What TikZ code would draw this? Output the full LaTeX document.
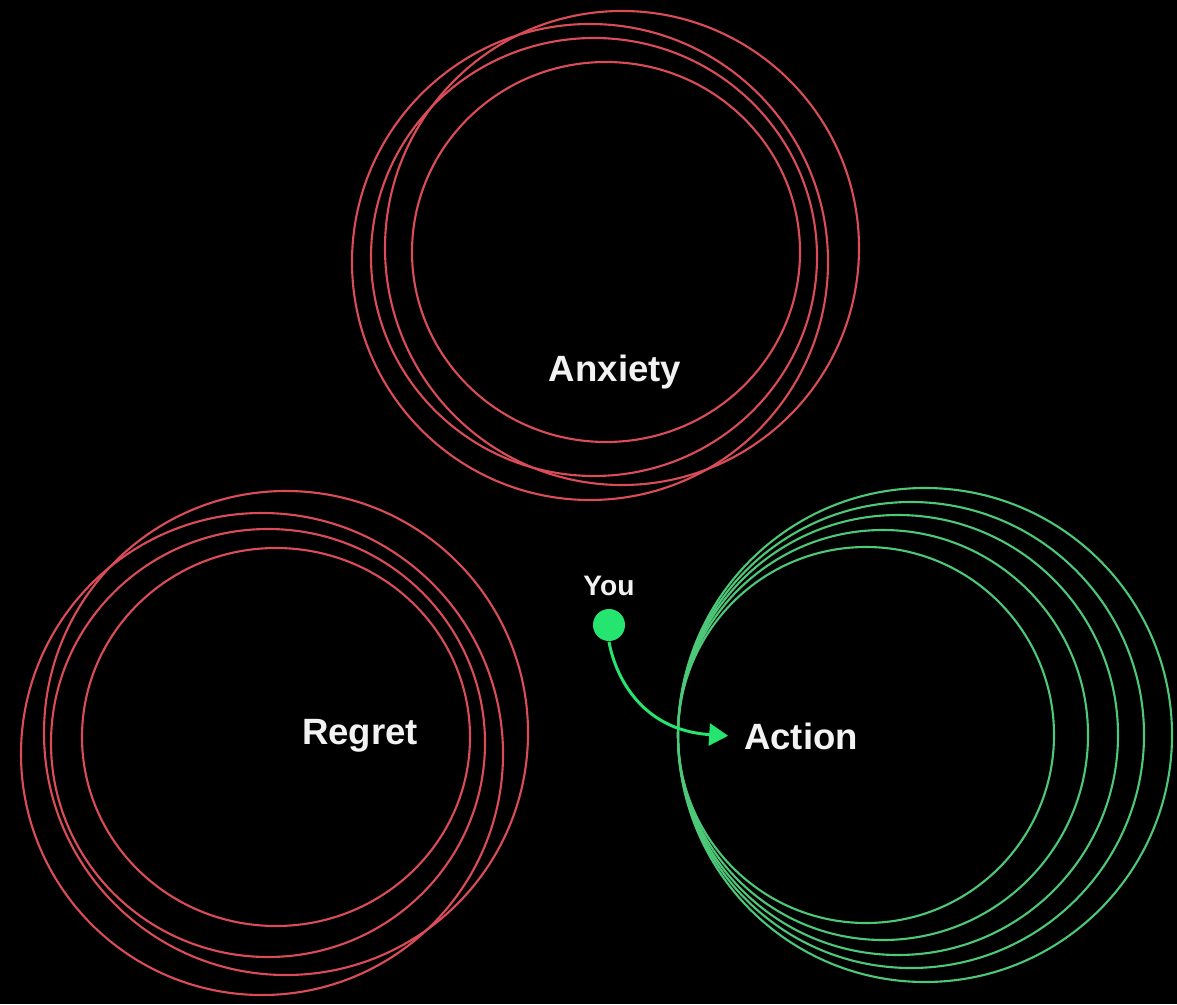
\documentclass[tikz,border=0pt]{standalone}
\usepackage{fontspec}
\setmainfont{Liberation Sans}
\usepackage{xcolor}
\usetikzlibrary{positioning,arrows.meta}

\definecolor{ringred}{RGB}{218,76,88}
\definecolor{ringgreen}{RGB}{76,200,120}
\definecolor{dotgreen}{RGB}{38,228,112}
\definecolor{labelwhite}{RGB}{242,242,242}

\begin{document}
\begin{tikzpicture}[x=0.01cm, y=-0.01cm,
  every node/.style={font=\bfseries\fontsize{10.4}{12}\selectfont, text=labelwhite},
  redring/.style={draw=ringred, line width=0.6pt},
  greenring/.style={draw=ringgreen, line width=0.6pt},
  youdot/.style={circle, fill=dotgreen, inner sep=0pt, minimum size=0.32cm}]

  \fill[black] (0,0) rectangle (1177,1004);
  \useasboundingbox (0,0) rectangle (1177,1004);

  % Anxiety rings
  \draw[redring] (606,252) ellipse [x radius=194, y radius=190];
  \draw[redring] (594,257) ellipse [x radius=223, y radius=219];
  \draw[redring] (590,262) circle [radius=238];
  \draw[redring] (622,248) circle [radius=237];

  % Regret rings
  \draw[redring] (276,737) ellipse [x radius=194, y radius=189];
  \draw[redring] (268,743) ellipse [x radius=217, y radius=214];
  \draw[redring] (262,754) circle [radius=241];
  \draw[redring] (286,733) circle [radius=242];

  % Action rings, all touching on the left
  \foreach \r in {188,205,220,233,247}
    \draw[greenring] (678+\r,735) circle [radius=\r];

  \node (anxiety) at (615,372) {Anxiety};
  \node (regret)  at (360,736) {Regret};
  \node (action)  at (801,736) {Action};

  \node[youdot] (you) at (609,625) {};
  \node[font=\bfseries\fontsize{8}{10}\selectfont, above=0cm of you] (youlabel) {You};

  \draw[-{Triangle[length=0.19cm, width=0.22cm]}, dotgreen, line width=0.85pt, shorten >=1pt]
    (you.south) .. controls +(5,29) and +(-94,-6) .. (action.west);
\end{tikzpicture}
\end{document}
